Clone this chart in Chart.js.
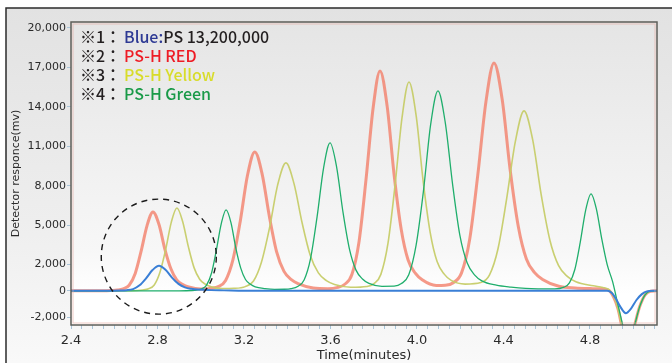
<!DOCTYPE html>
<html>
<head>
<meta charset="utf-8">
<script src="https://cdn.jsdelivr.net/npm/chart.js@4"></script>
<style>
  html, body { margin: 0; padding: 0; background: #fff; }
  #wrap { width: 672px; height: 363px; }
</style>
</head>
<body>
<div id="wrap"><canvas id="gpcChart" width="672" height="363"></canvas></div>
<script>
// ---- data ----
const blueTimes = [2.4, 2.597, 2.627, 2.657, 2.687, 2.717, 2.747, 2.777, 2.807, 2.837, 2.867, 2.897, 2.927, 2.957, 2.987, 3.047, 3.107, 3.2, 4.88, 4.9, 4.92, 4.94, 4.966, 4.99, 5.015, 5.04, 5.063, 5.09, 5.12];
const blueValues = [0, 8, 19, 48, 133, 418, 950, 1577, 1900, 1596, 1007, 532, 266, 152, 95, 53, 34, 0, 0, -150, -600, -1200, -1700, -1350, -700, -250, -40, 0, 0];

const redTimes = [2.4, 2.55, 2.586, 2.614, 2.641, 2.669, 2.697, 2.724, 2.752, 2.779, 2.807, 2.834, 2.862, 2.889, 2.917, 2.944, 2.999, 3.054, 3.081, 3.115, 3.149, 3.183, 3.216, 3.25, 3.284, 3.318, 3.351, 3.385, 3.419, 3.453, 3.52, 3.588, 3.634, 3.666, 3.699, 3.732, 3.764, 3.797, 3.829, 3.862, 3.894, 3.927, 3.959, 3.992, 4.024, 4.089, 4.131, 4.168, 4.206, 4.244, 4.281, 4.319, 4.356, 4.394, 4.431, 4.469, 4.506, 4.544, 4.581, 4.656, 4.731, 4.8, 4.855, 4.885, 4.91, 4.93, 4.95, 4.975, 5.0, 5.03, 5.055, 5.08, 5.12];
const redValues = [0, 0, 24, 60, 150, 420, 1320, 3000, 4980, 6000, 5040, 3180, 1680, 840, 480, 300, 140, 200, 324, 790, 2365, 5320, 8773, 10570, 8880, 5600, 2960, 1480, 845, 530, 211, 160, 262, 500, 1240, 3740, 8415, 13886, 16730, 14053, 8867, 4684, 2342, 1338, 837, 405, 423, 618, 1364, 3945, 8780, 14392, 17340, 14566, 9190, 4855, 2428, 1387, 867, 347, 208, 170, 150, 60, -500, -1400, -2900, -4200, -3000, -1200, -300, -30, 0];

const yellowTimes = [2.4, 2.65, 2.706, 2.732, 2.759, 2.785, 2.811, 2.838, 2.864, 2.89, 2.916, 2.943, 2.969, 2.995, 3.021, 3.048, 3.1, 3.153, 3.206, 3.244, 3.281, 3.319, 3.356, 3.394, 3.431, 3.469, 3.506, 3.544, 3.581, 3.619, 3.694, 3.769, 3.801, 3.833, 3.866, 3.898, 3.931, 3.963, 3.996, 4.028, 4.061, 4.093, 4.126, 4.158, 4.223, 4.295, 4.335, 4.375, 4.415, 4.455, 4.495, 4.535, 4.575, 4.615, 4.655, 4.695, 4.735, 4.815, 4.86, 4.885, 4.91, 4.93, 4.95, 4.975, 5.0, 5.03, 5.055, 5.08, 5.12];
const yellowValues = [0, 0, 25, 63, 158, 441, 1386, 3150, 5229, 6300, 5292, 3339, 1764, 882, 504, 315, 176, 190, 320, 746, 2196, 4865, 8076, 9730, 8173, 5157, 2724, 1362, 778, 487, 272, 335, 550, 1252, 3620, 7945, 13189, 15890, 13348, 8422, 4449, 2225, 1271, 795, 513, 628, 1198, 3222, 7035, 11363, 13690, 11500, 7256, 3833, 1917, 1095, 685, 383, 260, 120, -400, -1400, -2900, -4200, -3000, -1200, -300, -30, 0];

const greenTimes = [2.4, 2.9, 2.96, 2.982, 3.005, 3.027, 3.05, 3.072, 3.095, 3.117, 3.14, 3.162, 3.185, 3.207, 3.23, 3.252, 3.297, 3.342, 3.387, 3.418, 3.448, 3.478, 3.508, 3.538, 3.568, 3.598, 3.628, 3.658, 3.688, 3.718, 3.748, 3.778, 3.838, 3.894, 3.928, 3.962, 3.996, 4.03, 4.063, 4.097, 4.131, 4.165, 4.198, 4.232, 4.266, 4.3, 4.367, 4.435, 4.502, 4.637, 4.68, 4.705, 4.73, 4.755, 4.78, 4.805, 4.83, 4.855, 4.88, 4.905, 4.93, 4.95, 4.975, 5.0, 5.03, 5.055, 5.08, 5.12];
const greenValues = [0, 0, 25, 62, 154, 431, 1355, 3080, 5113, 6160, 5174, 3265, 1725, 862, 493, 308, 172, 111, 120, 170, 330, 830, 2475, 5625, 9338, 11250, 9450, 5963, 3150, 1575, 900, 563, 345, 355, 550, 1215, 3476, 7605, 12624, 15210, 12776, 8061, 4259, 2129, 1217, 761, 426, 274, 183, 143, 280, 600, 1624, 3690, 6125, 7380, 6199, 3911, 1970, 680, -1100, -2500, -4200, -3000, -1200, -300, -30, 0];

const yTickValues = [20000, 17000, 14000, 11000, 8000, 5000, 2000, 0, -2000];
const xMin = 2.4, xMax = 5.11;
const yMin = -2600, yMax = 20450;

// note box in the upper left
const noteLines = [
  [["※1：", "#231f20"], ["Blue:", "#2e3a94"], ["PS 13,200,000", "#231f20"]],
  [["※2：", "#231f20"], ["PS-H RED", "#ee1c25"]],
  [["※3：", "#231f20"], ["PS-H Yellow", "#d8dc2a"]],
  [["※4：", "#231f20"], ["PS-H Green", "#1a9a48"]],
];

// dashed circle around the first peaks (centre time / value, radius in minutes)
const circleAt = { t: 2.806, v: 2600, rt: 0.266 };

function toPoints(times, values) {
  const n = Math.min(times.length, values.length);
  const pts = [];
  for (let i = 0; i < n; i++) pts.push({ x: times[i], y: values[i] });
  return pts;
}

Chart.defaults.font.family = "'DejaVu Sans', Verdana, sans-serif";
Chart.defaults.color = "#333";

// backgrounds, frame, notes and the circle
const decorPlugin = {
  id: "decor",
  beforeDraw(chart) {
    const ctx = chart.ctx;
    const { left, top, right, bottom } = chart.chartArea;
    ctx.save();
    ctx.fillStyle = "#fff";
    ctx.fillRect(0, 0, chart.width, chart.height);

    // outer panel
    const g = ctx.createLinearGradient(0, 8, 0, chart.height);
    g.addColorStop(0, "#e2e2e2");
    g.addColorStop(0.6, "#eeeeee");
    g.addColorStop(1, "#f9f9f9");
    ctx.fillStyle = g;
    ctx.fillRect(6, 8, chart.width - 6, chart.height - 8);
    ctx.strokeStyle = "#2b2b2b";
    ctx.lineWidth = 1.5;
    ctx.beginPath();
    ctx.moveTo(6, chart.height);
    ctx.lineTo(6, 8);
    ctx.lineTo(chart.width, 8);
    ctx.stroke();

    // plot area
    const pg = ctx.createLinearGradient(0, top, 0, bottom);
    pg.addColorStop(0, "#e5e5e5");
    pg.addColorStop(0.75, "#f7f7f7");
    pg.addColorStop(0.9, "#ffffff");
    pg.addColorStop(1, "#ffffff");
    ctx.fillStyle = pg;
    ctx.fillRect(left, top, right - left, bottom - top);
    ctx.restore();
  },
  afterDatasetsDraw(chart) {
    const ctx = chart.ctx;
    const { left, top, right, bottom } = chart.chartArea;
    const xs = chart.scales.x, ys = chart.scales.y;
    ctx.save();

    // plot border
    ctx.strokeStyle = "#5e5e58";
    ctx.lineWidth = 1.5;
    ctx.strokeRect(left, top, right - left, bottom - top);
    ctx.strokeStyle = "rgba(230,170,160,0.6)";
    ctx.lineWidth = 1;
    ctx.strokeRect(left + 2, top + 2, right - left - 4, bottom - top - 4);

    // dashed circle
    const cx = xs.getPixelForValue(circleAt.t);
    const cy = ys.getPixelForValue(circleAt.v);
    const r = xs.getPixelForValue(circleAt.t + circleAt.rt) - cx;
    ctx.setLineDash([6, 5]);
    ctx.strokeStyle = "#1a1a1a";
    ctx.lineWidth = 1.4;
    ctx.beginPath();
    ctx.arc(cx, cy, r, 0, Math.PI * 2);
    ctx.stroke();
    ctx.setLineDash([]);

    // notes
    ctx.font = "500 16px 'Noto Sans CJK JP', sans-serif";
    ctx.textBaseline = "alphabetic";
    ctx.textAlign = "left";
    noteLines.forEach((line, i) => {
      const y = top + 20.5 + i * 19;
      let x = left + 9;
      line.forEach(([txt, col], j) => {
        if (j === 1) x = left + 53;
        ctx.fillStyle = col;
        ctx.fillText(txt, x, y);
        x += ctx.measureText(txt).width;
      });
    });
    ctx.restore();
  },
};

const ctx = document.getElementById("gpcChart").getContext("2d");
new Chart(ctx, {
  type: "line",
  data: {
    datasets: [
      {
        label: "Blue",
        data: toPoints(blueTimes, blueValues),
        borderColor: "#3a7fd6",
        borderWidth: 2,
      },
      {
        label: "PS-H Green",
        data: toPoints(greenTimes, greenValues),
        borderColor: "#1fae6c",
        borderWidth: 1.3,
      },
      {
        label: "PS-H Yellow",
        data: toPoints(yellowTimes, yellowValues),
        borderColor: "rgba(198,204,104,0.95)",
        borderWidth: 1.6,
      },
      {
        label: "PS-H RED",
        data: toPoints(redTimes, redValues),
        borderColor: "rgba(243,128,106,0.8)",
        borderWidth: 3,
      },
    ],
  },
  options: {
    responsive: false,
    animation: false,
    events: [],
    layout: { padding: { left: 6, right: 15, top: 22, bottom: 0 } },
    elements: {
      point: { radius: 0 },
      line: { cubicInterpolationMode: "monotone", fill: false },
    },
    plugins: {
      legend: { display: false },
      tooltip: { enabled: false },
    },
    scales: {
      x: {
        type: "linear",
        min: xMin,
        max: xMax,
        border: { display: false },
        grid: {
          drawOnChartArea: false,
          drawTicks: true,
          tickLength: 4,
          color: "#a9c4d8",
        },
        afterBuildTicks(axis) {
          const ticks = [];
          for (let i = 48; i <= 102; i++) ticks.push({ value: i / 20 });
          axis.ticks = ticks;
        },
        afterFit(axis) {
          axis.height = 38;
        },
        ticks: {
          autoSkip: false,
          maxRotation: 0,
          padding: 4,
          color: "#2a2a2a",
          font: { size: 13 },
          callback: (v) => (Math.round(v * 20) % 8 === 0 ? v.toFixed(1) : ""),
        },
        title: {
          display: true,
          text: "Time(minutes)",
          color: "#2a2a2a",
          font: { size: 13 },
          padding: { top: 0, bottom: 0 },
        },
      },
      y: {
        type: "linear",
        min: yMin,
        max: yMax,
        border: { display: false },
        grid: {
          drawOnChartArea: false,
          drawTicks: true,
          tickLength: 4,
          color: "#a9c4d8",
        },
        afterBuildTicks(axis) {
          axis.ticks = yTickValues.map((v) => ({ value: v }));
        },
        afterFit(axis) {
          axis.width = 65;
        },
        ticks: {
          padding: 1,
          color: "#2a2a2a",
          font: { size: 11 },
          callback: (v) => v.toLocaleString("en-US"),
        },
        title: {
          display: true,
          text: "Detector responce(mv)",
          color: "#2a2a2a",
          font: { size: 11 },
          padding: { top: 4, bottom: 0 },
        },
      },
    },
  },
  plugins: [decorPlugin],
});
</script>
</body>
</html>
